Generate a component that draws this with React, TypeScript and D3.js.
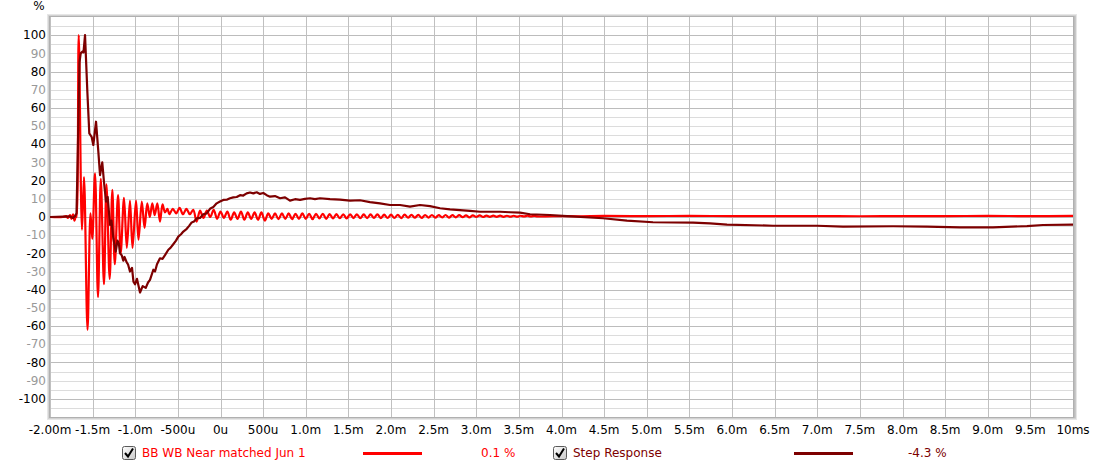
import React from 'react';
import * as d3 from 'd3';

// impulse response (red), [time ms, %]
const impulseStart: [number, number][] = [
  [-2.0, 0], [-1.85, 0], [-1.81, 0.5], [-1.79, -0.5], [-1.765, 1], [-1.748, -1], [-1.73, 1.5],
  [-1.713, -2], [-1.695, 1], [-1.688, 0], [-1.663, 100], [-1.625, -7], [-1.601, 22], [-1.56, -62],
  [-1.525, 2], [-1.504, -12], [-1.472, 24], [-1.437, -44], [-1.404, 21], [-1.367, -37], [-1.338, 18],
  [-1.3, -34], [-1.269, 15], [-1.24, -26], [-1.202, 12], [-1.171, -20], [-1.132, 10.5], [-1.099, -17],
  [-1.062, 9], [-1.032, -17], [-0.991, 9], [-0.962, -12.5], [-0.923, 8.5], [-0.891, -6], [-0.859, 7.5],
  [-0.829, 0], [-0.8, 7.5], [-0.772, 1], [-0.741, 7.5], [-0.71, -2.5], [-0.68, 7], [-0.651, 2.5],
  [-0.622, 4.5],
];

const impulseRinging: [number, number][] = [
  [-0.6, 1.5], [-0.56, 4.5], [-0.52, 2], [-0.48, 5], [-0.44, 1.5], [-0.4, 4.5], [-0.36, 1.5], [-0.32, 4], [-0.28, -2.5], [-0.24, 3.5],
  [-0.2, -0.5], [-0.16, 3.5], [-0.12, 0], [-0.08, 4], [-0.04, -1], [0.0, 3], [0.04, -0.5], [0.08, 3], [0.12, -1.5], [0.16, 2.5],
  [0.2, -1], [0.24, 3], [0.28, -1.5], [0.32, 2.5], [0.36, -1], [0.4, 2.5], [0.44, -1.5], [0.48, 2.5], [0.52, -2], [0.56, 2],
  [0.6, -1], [0.64, 2], [0.68, -1.2], [0.72, 2], [0.76, -1], [0.8, 2], [0.84, -1.2], [0.88, 1.8], [0.92, -1], [0.96, 2],
  [1.0, -1], [1.04, 1.8], [1.08, -1.2], [1.12, 1.8], [1.16, -0.8], [1.2, 1.8], [1.24, -1], [1.28, 1.6], [1.32, -0.8], [1.36, 1.6],
  [1.4, -0.7], [1.44, 1.5], [1.48, -0.8], [1.52, 1.5], [1.56, -0.6], [1.6, 1.5], [1.64, -0.7], [1.68, 1.4], [1.72, -0.6], [1.76, 1.4],
  [1.8, -0.5], [1.84, 1.5], [1.88, -0.6], [1.92, 1.3], [1.96, -0.5], [2.0, 1.3], [2.04, -0.5], [2.08, 1.2], [2.12, -0.6], [2.16, 1.3],
  [2.2, -0.4], [2.24, 1.2], [2.28, -0.4], [2.32, 1.2], [2.36, -0.5], [2.4, 1.1], [2.44, -0.3], [2.48, 1.1], [2.52, -0.3], [2.56, 1.0],
  [2.6, -0.2], [2.64, 1.1], [2.68, -0.3], [2.72, 1.0], [2.76, -0.2], [2.8, 1.0], [2.84, -0.1], [2.88, 0.9], [2.92, -0.2], [2.96, 0.9],
  [3.0, 0], [3.04, 0.9], [3.08, 0], [3.12, 0.8], [3.16, 0.1], [3.2, 0.8], [3.24, 0.1], [3.28, 0.8], [3.32, 0.1], [3.36, 0.7],
  [3.4, 0.2], [3.44, 0.7], [3.48, 0.2], [3.52, 0.7], [3.56, 0.3], [3.6, 0.7], [3.64, 0.3], [3.68, 0.6], [3.72, 0.3],
];

const impulseTail: [number, number][] = [
  [3.9, 0.5], [4.2, 0.4], [4.5, 0.6], [5.0, 0.5], [5.5, 0.6], [6.0, 0.5], [6.5, 0.5], [7.0, 0.5],
  [7.5, 0.4], [8.0, 0.5], [8.5, 0.5], [9.0, 0.6], [9.5, 0.5], [10.0, 0.6],
];

// step response (dark red), [time ms, %]
const stepPoints: [number, number][] = [
  [-2.0, 0], [-1.765, 0.3], [-1.73, -0.5], [-1.707, 0.5], [-1.689, 2], [-1.672, 40], [-1.654, 85],
  [-1.64, 90], [-1.619, 91], [-1.607, 90.5], [-1.589, 100], [-1.562, 69], [-1.539, 46], [-1.511, 44],
  [-1.492, 39.6], [-1.46, 52.4], [-1.433, 36], [-1.413, 23], [-1.387, 30], [-1.367, 19.4], [-1.343, 8.4],
  [-1.323, 11], [-1.296, -4.4], [-1.279, -2], [-1.257, -11.7], [-1.229, -19], [-1.208, -13], [-1.191, -15],
  [-1.179, -20], [-1.159, -21], [-1.14, -24], [-1.126, -22], [-1.1, -25], [-1.085, -26], [-1.062, -30],
  [-1.038, -28], [-1.021, -35.6], [-1.003, -37], [-0.98, -34], [-0.944, -41.5], [-0.913, -38],
  [-0.877, -39], [-0.85, -36], [-0.827, -34.6], [-0.788, -29], [-0.768, -30], [-0.745, -26],
  [-0.71, -22.7], [-0.68, -23], [-0.651, -21], [-0.612, -18], [-0.587, -17], [-0.554, -15],
  [-0.522, -13], [-0.495, -10.8], [-0.463, -9.5], [-0.436, -8], [-0.396, -6.5], [-0.37, -5],
  [-0.338, -3], [-0.311, -2.5], [-0.279, -0.8], [-0.24, -0.5], [-0.202, 1.5], [-0.162, 2],
  [-0.123, 4.5], [-0.084, 5.5], [-0.045, 7.5], [-0.006, 8.5], [0.033, 9.4], [0.073, 9.5],
  [0.111, 10.3], [0.15, 10.8], [0.19, 11], [0.229, 12], [0.267, 11.8], [0.307, 13], [0.346, 13.5],
  [0.385, 13], [0.425, 13.6], [0.463, 12.7], [0.502, 13.2], [0.542, 12], [0.581, 11.2], [0.639, 11.5],
  [0.698, 10.3], [0.757, 10.8], [0.815, 9], [0.874, 9.8], [0.933, 9.4], [0.991, 10], [1.05, 10.3],
  [1.108, 9.8], [1.167, 10.3], [1.284, 9.8], [1.402, 9.6], [1.519, 9], [1.636, 9.2], [1.754, 8.2],
  [1.871, 7.5], [1.988, 6.6], [2.106, 6.6], [2.223, 5.7], [2.34, 6.6], [2.457, 6], [2.575, 4.8],
  [2.692, 4.2], [2.809, 3.8], [2.927, 3.4], [3.044, 2.9], [3.161, 2.9], [3.279, 2.9], [3.396, 2.6],
  [3.513, 2.4], [3.631, 1.5], [3.865, 1.1], [4.065, 0.5], [4.487, -0.7], [4.768, -2], [5.073, -2.9],
  [5.543, -3.1], [5.742, -3.5], [5.941, -4.2], [6.481, -4.8], [6.997, -4.8], [7.302, -5.3],
  [7.889, -5.1], [8.288, -5.3], [8.674, -5.7], [9.062, -5.7], [9.46, -5], [9.648, -4.4], [10.0, -4.2],
];

const xTickValues = [-2, -1.5, -1, -0.5, 0, 0.5, 1, 1.5, 2, 2.5, 3, 3.5, 4, 4.5, 5, 5.5, 6, 6.5, 7, 7.5, 8, 8.5, 9, 9.5, 10];
const xTickLabels = ['-2.00m', '-1.5m', '-1.0m', '-500u', '0u', '500u', '1.0m', '1.5m', '2.0m', '2.5m', '3.0m', '3.5m', '4.0m',
  '4.5m', '5.0m', '5.5m', '6.0m', '6.5m', '7.0m', '7.5m', '8.0m', '8.5m', '9.0m', '9.5m', '10ms'];
const yTickValues = [100, 90, 80, 70, 60, 50, 40, 30, 20, 10, 0, -10, -20, -30, -40, -50, -60, -70, -80, -90, -100];
const yGridValues = d3.range(-105, 106, 5);

const seriesNames = ['BB WB Near matched Jun 1', 'Step Response'];
const seriesValues = ['0.1 %', '-4.3 %'];
const seriesColors = ['#ff0000', '#7d0000'];

const W = 1097;
const H = 473;
const L = 50, R = 1073, T = 17, B = 417;
const font = '"DejaVu Sans", Verdana, sans-serif';

function CheckBox({ x, y }: { x: number; y: number }) {
  return (
    <g transform={`translate(${x},${y})`}>
      <rect x={0.5} y={0.5} width={13} height={13} rx={2} fill="url(#cbGrad)" stroke="#5a5a5a" />
      <path d="M3,7 L6,10.5 L11,2.5" fill="none" stroke="#000" strokeWidth={2} />
    </g>
  );
}

export default function App() {
  const x = d3.scaleLinear().domain([-2, 10]).range([L, R]);
  const y = d3.scaleLinear().domain([-110, 110]).range([B, T]);
  const line = d3.line<[number, number]>().x(d => x(d[0])).y(d => y(d[1]));
  const smooth = d3.line<[number, number]>().x(d => x(d[0])).y(d => y(d[1])).curve(d3.curveCatmullRom.alpha(0.5));

  const impulse = [...impulseStart, ...impulseRinging, ...impulseTail];

  return (
    <svg width={W} height={H} style={{ position: 'absolute', left: 0, top: 0, background: '#fff' }} fontFamily={font}>
      <defs>
        <clipPath id="plotClip">
          <rect x={L} y={T} width={R - L} height={B - T} />
        </clipPath>
        <linearGradient id="cbGrad" x1="0" y1="0" x2="1" y2="1">
          <stop offset="0" stopColor="#ffffff" />
          <stop offset="1" stopColor="#c8c8c8" />
        </linearGradient>
      </defs>

      {/* frame shadow */}
      <rect x={L - 2.5} y={T - 2.5} width={R - L + 6} height={B - T + 5} fill="none" stroke="#e6e6e6" strokeWidth={1} />
      <rect x={L - 1.5} y={T - 1.5} width={R - L + 4} height={B - T + 3} fill="none" stroke="#d2d2d2" strokeWidth={1} />
      <line x1={R + 1.5} x2={R + 1.5} y1={T - 1} y2={B + 1} stroke="#bdbdbd" strokeWidth={2} />
      <rect x={L} y={T} width={R - L} height={B - T} fill="#fff" />

      {/* grid */}
      {yGridValues.map(v => (
        <line key={'h' + v} x1={L} x2={R} y1={Math.round(y(v)) + 0.5} y2={Math.round(y(v)) + 0.5}
          stroke={v % 20 === 0 ? '#bcbcbc' : '#dcdcdc'} strokeWidth={1} />
      ))}
      {xTickValues.map(t => (
        <line key={'v' + t} x1={Math.round(x(t)) + 0.5} x2={Math.round(x(t)) + 0.5} y1={T} y2={B}
          stroke="#c0c0c0" strokeWidth={1} />
      ))}
      <rect x={L - 0.5} y={T - 0.5} width={R - L + 1} height={B - T + 1} fill="none" stroke="#b0b0b0" strokeWidth={1} />

      {/* curves */}
      <g clipPath="url(#plotClip)" fill="none" strokeLinejoin="round">
        <path d={smooth(impulse) || ''} stroke={seriesColors[0]} strokeWidth={2.2} />
        <path d={line(stepPoints) || ''} stroke={seriesColors[1]} strokeWidth={2.2} />
      </g>

      {/* y axis */}
      <text x={39} y={10} fontSize={12} textAnchor="middle" fill="#000">%</text>
      {yTickValues.map(v => (
        <text key={'yl' + v} x={46} y={y(v)} dy="0.35em" fontSize={12} textAnchor="end"
          fill={v % 20 === 0 ? '#000' : '#999'}>{v}</text>
      ))}

      {/* x axis */}
      {xTickValues.map((t, i) => (
        <text key={'xl' + t} x={x(t)} y={434} fontSize={12} textAnchor="middle" fill="#000">{xTickLabels[i]}</text>
      ))}

      {/* legend */}
      <CheckBox x={122} y={446} />
      <text x={142} y={457} fontSize={12} fill={seriesColors[0]}>{seriesNames[0]}</text>
      <line x1={363} x2={422} y1={453.5} y2={453.5} stroke={seriesColors[0]} strokeWidth={3} />
      <text x={481} y={457} fontSize={12} fill={seriesColors[0]}>{seriesValues[0]}</text>

      <CheckBox x={553} y={446} />
      <text x={573} y={457} fontSize={12} fill={seriesColors[1]}>{seriesNames[1]}</text>
      <line x1={794} x2={853} y1={453.5} y2={453.5} stroke={seriesColors[1]} strokeWidth={3} />
      <text x={908} y={457} fontSize={12} fill={seriesColors[1]}>{seriesValues[1]}</text>
    </svg>
  );
}
